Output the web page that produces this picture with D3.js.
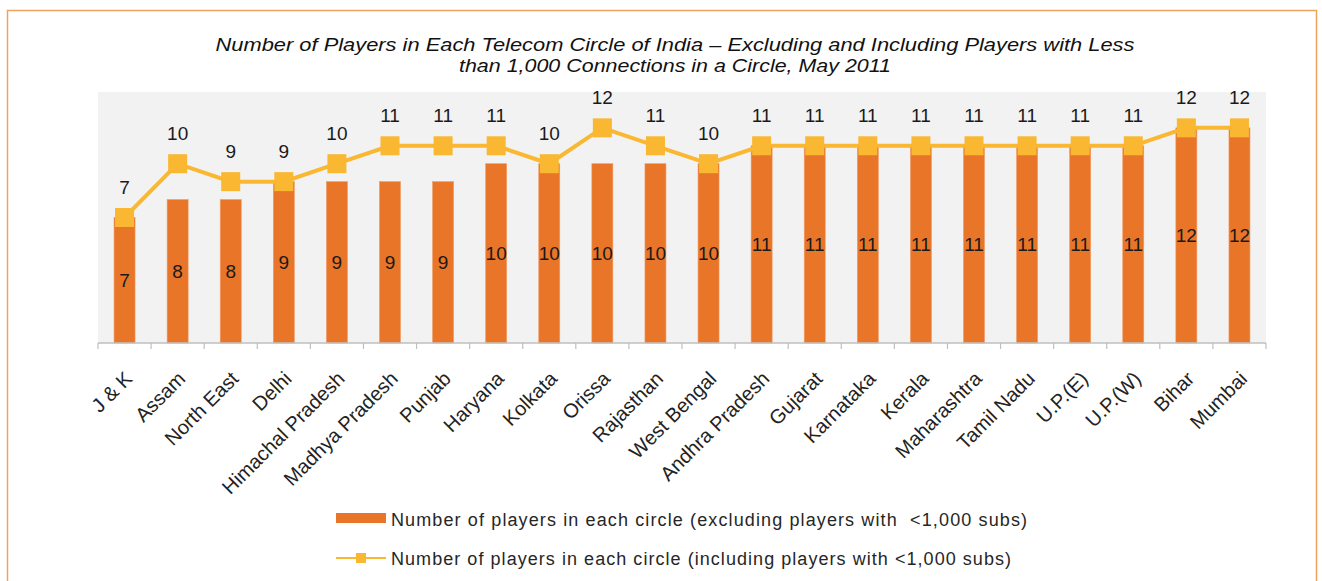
<!DOCTYPE html>
<html>
<head>
<meta charset="utf-8">
<script src="https://cdnjs.cloudflare.com/ajax/libs/d3/7.8.5/d3.min.js"></script>
<style>
  body { margin: 0; background: #fff; }
  svg text { font-family: "Liberation Sans", Arial, sans-serif; white-space: pre; }
</style>
</head>
<body>
<div id="chart"></div>
<script>
// data
var circles = ["J & K", "Assam", "North East", "Delhi", "Himachal Pradesh", "Madhya Pradesh",
  "Punjab", "Haryana", "Kolkata", "Orissa", "Rajasthan", "West Bengal", "Andhra Pradesh",
  "Gujarat", "Karnataka", "Kerala", "Maharashtra", "Tamil Nadu", "U.P.(E)", "U.P.(W)",
  "Bihar", "Mumbai"];
var excluding = [7, 8, 8, 9, 9, 9, 9, 10, 10, 10, 10, 10, 11, 11, 11, 11, 11, 11, 11, 11, 12, 12];
var including = [7, 10, 9, 9, 10, 11, 11, 11, 10, 12, 11, 10, 11, 11, 11, 11, 11, 11, 11, 11, 12, 12];
var titleLines = ["Number of Players in Each Telecom Circle of India \u2013 Excluding and Including Players with Less",
  "than 1,000 Connections in a Circle, May 2011"];
var legendLabels = ["Number of players in each circle (excluding players with  <1,000 subs)",
  "Number of players in each circle (including players with <1,000 subs)"];

var W = 1322, H = 581;
var barColor = "#E87528", lineColor = "#F9B732";

var svg = d3.select("#chart").append("svg")
  .attr("width", W).attr("height", H);

// outer frame
svg.append("rect")
  .attr("x", 7.5).attr("y", 10.5)
  .attr("width", 1309).attr("height", 600)
  .attr("fill", "none")
  .attr("stroke", "#EDA35C")
  .attr("stroke-width", 1.5);

// title
svg.selectAll(".title")
  .data(titleLines)
  .enter().append("text")
  .attr("class", "title")
  .attr("x", 675)
  .attr("y", function(d, i) { return 51 + i * 21; })
  .attr("text-anchor", "middle")
  .attr("font-size", 19)
  .attr("font-style", "italic")
  .attr("fill", "#111")
  .attr("textLength", function(d, i) { return i == 0 ? 919 : 432; })
  .attr("lengthAdjust", "spacingAndGlyphs")
  .text(function(d) { return d; });

var plot = { left: 98, right: 1266, top: 92, bottom: 343 };

var band = d3.scaleBand().domain(circles).range([plot.left, plot.right]);

var y = d3.scaleLinear()
  .domain([0, 14])
  .range([plot.bottom, plot.top]);

function cx(i) { return band(circles[i]) + band.bandwidth() / 2; }

// plot background
svg.append("rect")
  .attr("x", plot.left).attr("y", plot.top)
  .attr("width", plot.right - plot.left)
  .attr("height", plot.bottom - plot.top)
  .attr("fill", "#F2F2F2");

// bars
svg.selectAll(".bar")
  .data(excluding)
  .enter().append("rect")
  .attr("class", "bar")
  .attr("x", function(d, i) { return cx(i) - 10.5; })
  .attr("width", 21)
  .attr("y", function(d) { return y(d); })
  .attr("height", function(d) { return y(0) - y(d); })
  .attr("fill", barColor)
  .attr("stroke", "#F19A63")
  .attr("stroke-width", 0.6);

// bar labels
svg.selectAll(".barLabel")
  .data(excluding)
  .enter().append("text")
  .attr("class", "barLabel")
  .attr("x", function(d, i) { return cx(i); })
  .attr("y", function(d) { return (y(d) + y(0)) / 2 + 7; })
  .attr("text-anchor", "middle")
  .attr("font-size", 19)
  .attr("fill", "#1a1a1a")
  .text(function(d) { return d; });

// axis
var axis = svg.append("g")
  .attr("transform", "translate(0," + plot.bottom + ")");
axis.append("line")
  .attr("x1", plot.left).attr("x2", plot.right)
  .attr("stroke", "#BFBFBF").attr("stroke-width", 1.5);
axis.selectAll(".tick")
  .data(circles.concat(["end"]))
  .enter().append("line")
  .attr("x1", function(d, i) { return i < circles.length ? band(d) : plot.right; })
  .attr("x2", function(d, i) { return i < circles.length ? band(d) : plot.right; })
  .attr("y1", 0).attr("y2", 6)
  .attr("stroke", "#BFBFBF").attr("stroke-width", 1.2);

axis.selectAll(".tickLabel")
  .data(circles)
  .enter().append("text")
  .attr("class", "tickLabel")
  .attr("text-anchor", "end")
  .attr("font-size", 20)
  .attr("fill", "#222")
  .attr("transform", function(d, i) {
    return "translate(" + (cx(i) + 9) + ",37) rotate(-45)";
  })
  .text(function(d) { return d; });

// line
var line = d3.line()
  .x(function(d, i) { return cx(i); })
  .y(function(d) { return y(d); });

svg.append("path")
  .datum(including)
  .attr("d", line)
  .attr("fill", "none")
  .attr("stroke", lineColor)
  .attr("stroke-width", 4);

svg.selectAll(".marker")
  .data(including)
  .enter().append("rect")
  .attr("class", "marker")
  .attr("x", function(d, i) { return cx(i) - 9.5; })
  .attr("y", function(d) { return y(d) - 9.5; })
  .attr("width", 19).attr("height", 19)
  .attr("fill", lineColor);

svg.selectAll(".lineLabel")
  .data(including)
  .enter().append("text")
  .attr("class", "lineLabel")
  .attr("x", function(d, i) { return cx(i); })
  .attr("y", function(d) { return y(d) - 24; })
  .attr("text-anchor", "middle")
  .attr("font-size", 19)
  .attr("fill", "#1a1a1a")
  .text(function(d) { return d; });

// legend
var legend = svg.append("g");
legend.append("rect")
  .attr("x", 336).attr("y", 513)
  .attr("width", 50).attr("height", 10)
  .attr("fill", barColor);
legend.append("line")
  .attr("x1", 336).attr("x2", 386)
  .attr("y1", 558).attr("y2", 558)
  .attr("stroke", lineColor).attr("stroke-width", 2);
legend.append("rect")
  .attr("x", 356).attr("y", 553)
  .attr("width", 10).attr("height", 10)
  .attr("fill", lineColor);
legend.selectAll(".legendText")
  .data(legendLabels)
  .enter().append("text")
  .attr("class", "legendText")
  .attr("x", 391)
  .attr("y", function(d, i) { return 526 + i * 39; })
  .attr("font-size", 18)
  .attr("fill", "#262626")
  .attr("textLength", function(d, i) { return i == 0 ? 636 : 620; })
  .attr("lengthAdjust", "spacing")
  .text(function(d) { return d; });
</script>
</body>
</html>
